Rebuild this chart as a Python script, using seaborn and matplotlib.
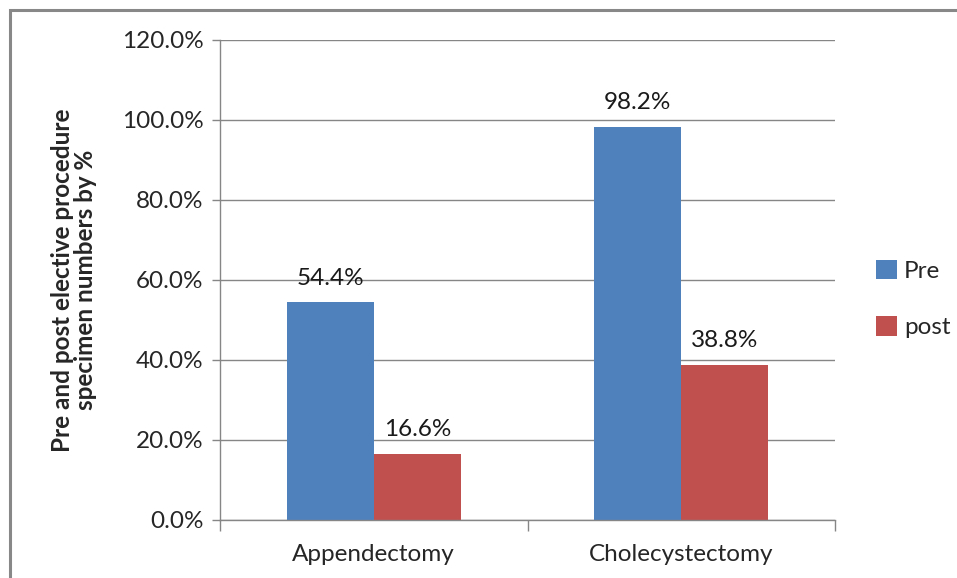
import matplotlib
matplotlib.use("Agg")
import matplotlib.pyplot as plt
from matplotlib.patches import Rectangle
from matplotlib.ticker import FuncFormatter, FixedLocator
import pandas as pd
import seaborn as sns

procedures = ["Appendectomy", "Cholecystectomy"]
series_names = ["Pre", "post"]
pre_values = [54.4, 98.2]
post_values = [16.6, 38.8]
y_ticks = [0, 20, 40, 60, 80, 100, 120]

colors = {"Pre": "#4F81BD", "post": "#C0504D"}

df = pd.DataFrame({
    "procedure": procedures * 2,
    "period": [series_names[0]] * 2 + [series_names[1]] * 2,
    "value": pre_values + post_values,
})

sns.set_theme(style="white")
plt.rcParams["font.family"] = ["Lato", "DejaVu Sans"]

fig = plt.figure(figsize=(9.57, 5.78), dpi=100)
ax = fig.add_axes([220 / 957, 58 / 578, 615 / 957, 480 / 578])

sns.barplot(data=df, x="procedure", y="value", hue="period",
            order=procedures, hue_order=series_names, palette=colors,
            width=0.566, saturation=1, ax=ax, legend=True, errorbar=None,
            linewidth=0)

grid_c = "#868686"
ax.set_ylim(0, 120)
ax.set_xlim(-0.5, 1.5)
ax.yaxis.set_major_locator(FixedLocator(y_ticks))
ax.yaxis.set_major_formatter(FuncFormatter(lambda v, p: f"{v:.1f}%"))
ax.grid(axis="y", color=grid_c, linewidth=1.0)
ax.set_axisbelow(True)
ax.tick_params(axis="y", which="major", length=6, color=grid_c, width=1,
               labelsize=17.5, pad=6, left=True)
ax.set_xticks([0, 1])
ax.set_xticks([-0.5, 0.5, 1.5], minor=True)
ax.tick_params(axis="x", which="major", length=0, labelsize=17.5, pad=17)
ax.tick_params(axis="x", which="minor", length=8, color=grid_c, width=1,
               bottom=True)
for s in ["top", "right"]:
    ax.spines[s].set_visible(False)
for s in ["left", "bottom"]:
    ax.spines[s].set_color(grid_c)
    ax.spines[s].set_linewidth(1.0)
ax.set_xlabel("")
ax.set_ylabel("Pre and post elective procedure\nspecimen numbers by %",
              fontsize=17.5, fontweight="bold", labelpad=18, linespacing=1.0)

for container in ax.containers:
    ax.bar_label(container, labels=[f"{b.get_height():.1f}%" for b in container],
                 padding=10, fontsize=17.5, color="#1a1a1a")

handles, labels = ax.get_legend_handles_labels()
ax.legend(handles, labels, loc="center left", bbox_to_anchor=(1.043, 0.46),
          frameon=False, fontsize=17.5, handlelength=0.85, handleheight=0.85,
          handletextpad=0.3, labelspacing=1.4, borderaxespad=0.2)

# chart-area frame
fig.add_artist(Rectangle((10 / 957, -0.1), 1.2, (578 - 10) / 578 + 0.1,
                         transform=fig.transFigure, fill=False,
                         edgecolor="#888888", linewidth=2.2))

fig.savefig("out.png", dpi=100, facecolor="white")
